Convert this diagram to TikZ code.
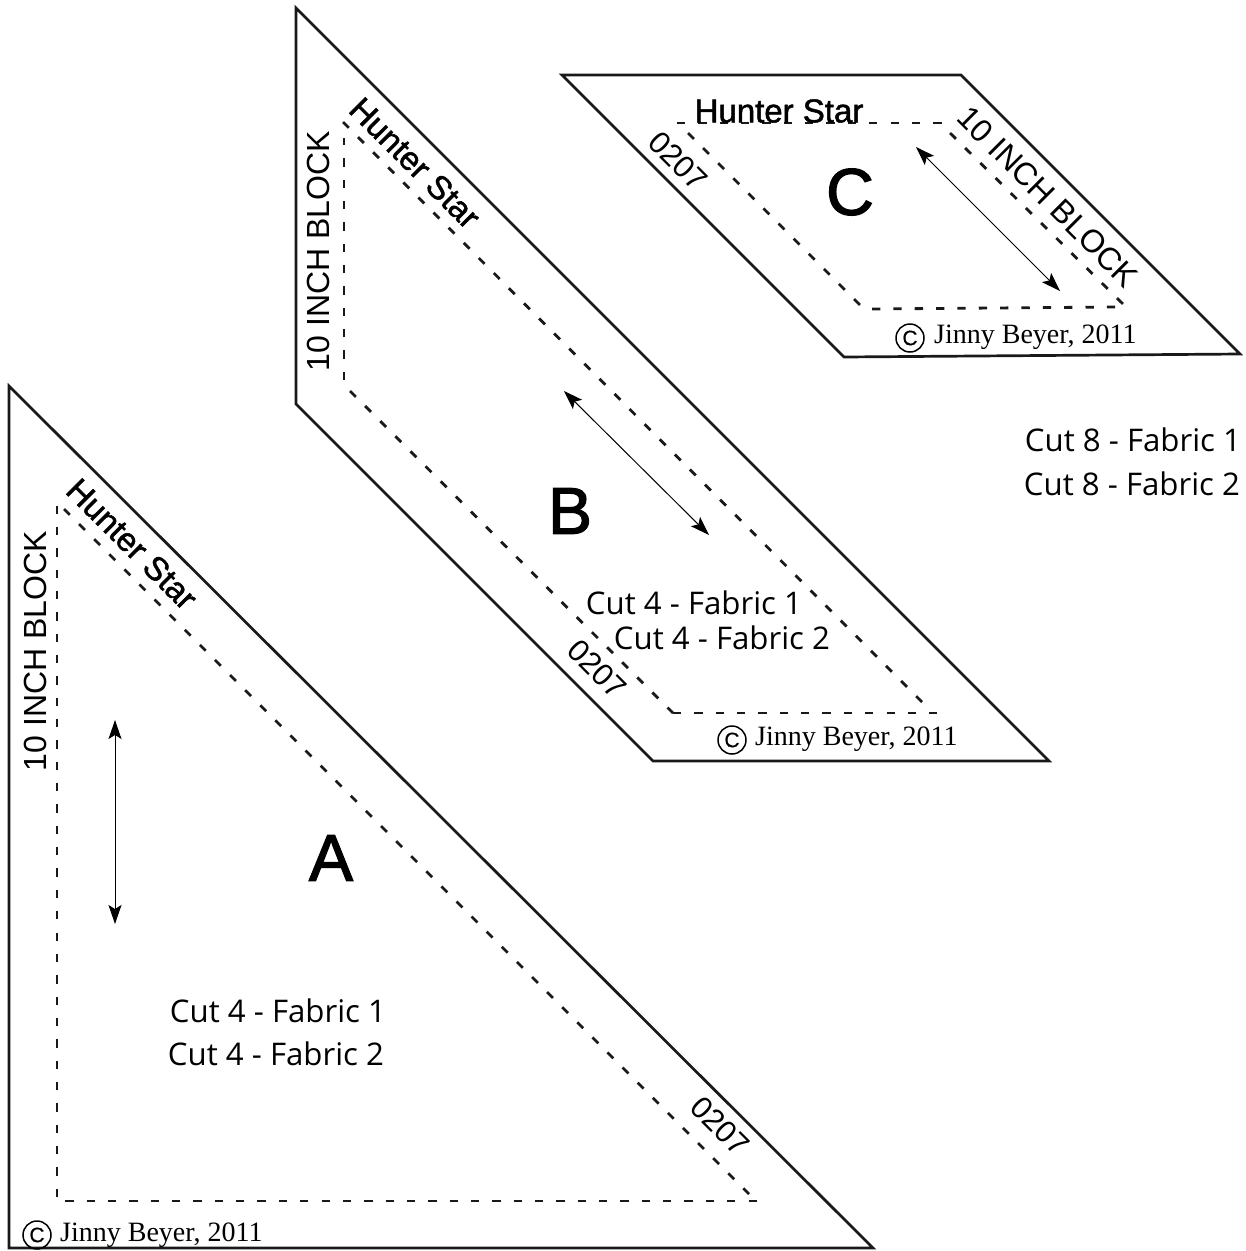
\documentclass[tikz,border=0pt]{standalone}
\usepackage{fontspec}
\setmainfont{Liberation Sans}
\newfontfamily\cutfont{Open Sans}
\newfontfamily\copyfont{Liberation Serif}
\newfontfamily\heavyfont[FakeBold=1.5]{Liberation Sans}
\newfontfamily\midfont[FakeBold=2]{Liberation Sans}
\newfontfamily\lightfont[FakeBold=0.4]{Liberation Sans}
\usetikzlibrary{arrows.meta}
\tikzset{
  outline/.style={draw=black!90,line width=2.7pt,line join=miter},
  seam/.style={draw=black!90,line width=2.8pt,dash pattern=on 8.3pt off 13.05pt,dash phase=#1},
  seam/.default=0pt,
  grain/.style={draw=black,line width=1pt,{Stealth[length=19pt,width=13pt,inset=4pt]}-{Stealth[length=19pt,width=13pt,inset=4pt]}},
  cuttext/.style={font=\cutfont\fontsize{31.2}{34}\selectfont,inner sep=0pt,text=black},
  biglabel/.style={font=\midfont\fontsize{66}{70}\selectfont,inner sep=0pt},
  sidetext/.style={font=\fontsize{32}{34}\selectfont,inner sep=0pt},
  huntertext/.style={font=\heavyfont\fontsize{33}{36}\selectfont,inner sep=0pt},
  numtext/.style={font=\fontsize{31}{34}\selectfont,inner sep=0pt},
  copytext/.style={font=\copyfont\fontsize{28}{30}\selectfont,inner sep=0pt},
  copycircle/.style={draw=black,line width=1.5pt,circle,minimum size=28pt,inner sep=0pt,font=\lightfont\fontsize{21}{24}\selectfont}
}
\begin{document}
\begin{tikzpicture}[x=1pt,y=-1pt]
\useasboundingbox (0,0) rectangle (1246,1251);
% A
\draw[outline] (9,386) -- (873,1248) -- (9,1248) -- cycle;
\draw[seam] (64,509) -- (749,1194);
\draw[seam] (57,1197) -- (57,506);
\draw[seam=13.05pt] (57,1201) -- (757,1201);
% B
\draw[outline] (296,8) -- (1049,761) -- (653,761) -- (296,404) -- cycle;
\draw[seam] (343,122) -- (923,703);
\draw[seam] (344,380) -- (344,138);
\draw[seam] (350,391) -- (673,713);
\draw[seam] (673,713) -- (937,713);
% C
\draw[outline] (562,75) -- (961,75) -- (1240,354) -- (844,357) -- cycle;
\draw[seam] (677,123) -- (942,123);
\draw[seam] (688,133) -- (860,305);
\draw[seam] (950,133) -- (1123,304);
\draw[seam] (872,309) -- (1115,307);
% grain lines
\coordinate (a1) at (115,720); \coordinate (a2) at (115,924);
\coordinate (b1) at (564,391); \coordinate (b2) at (709,535);
\coordinate (c1) at (916,147); \coordinate (c2) at (1060,291);
\draw[grain] (a1) -- (a2);
\draw[grain] (b1) -- (b2);
\draw[grain] (c1) -- (c2);
% letters
\node[biglabel] (la) at (331,858) {A};
\node[biglabel] (lb) at (570,511) {B};
\node[biglabel] (lc) at (850,192) {C};
% side labels
\node[sidetext,rotate=90] (sa) at (35,651) {10 INCH BLOCK};
\node[sidetext,rotate=90] (sb) at (318,251) {10 INCH BLOCK};
\node[sidetext,rotate=-45] (sc) at (1048,197) {10 INCH BLOCK};
% Hunter star
\node[huntertext,rotate=-45] (ha) at (132,544) {Hunter Star};
\node[huntertext,rotate=-45] (hb) at (415,163) {Hunter Star};
\node[huntertext] (hc) at (779,111) {Hunter Star};
% numbers
\node[numtext,rotate=-45] (na) at (720,1126) {0207};
\node[numtext,rotate=-45] (nb) at (597,669) {0207};
\node[numtext,rotate=-45] (nc) at (678,161) {0207};
% cut
\node[cuttext] (ca1) at (278,1011) {Cut 4 - Fabric 1};
\node[cuttext] (ca2) at (276,1054) {Cut 4 - Fabric 2};
\node[cuttext] (cb1) at (694,603) {Cut 4 - Fabric 1};
\node[cuttext] (cb2) at (722,638) {Cut 4 - Fabric 2};
\node[cuttext] (cc1) at (1133,440) {Cut 8 - Fabric 1};
\node[cuttext] (cc2) at (1132,484) {Cut 8 - Fabric 2};
% copyright
\node[copycircle] (oa) at (37,1235) {C};
\node[copytext,anchor=west] (ja) at (60,1235) {Jinny Beyer, 2011};
\node[copycircle] (ob) at (732,740) {C};
\node[copytext,anchor=west] (jb) at (755,739) {Jinny Beyer, 2011};
\node[copycircle] (oc) at (910,338) {C};
\node[copytext,anchor=west] (jc) at (934,337) {Jinny Beyer, 2011};
\end{tikzpicture}
\end{document}
